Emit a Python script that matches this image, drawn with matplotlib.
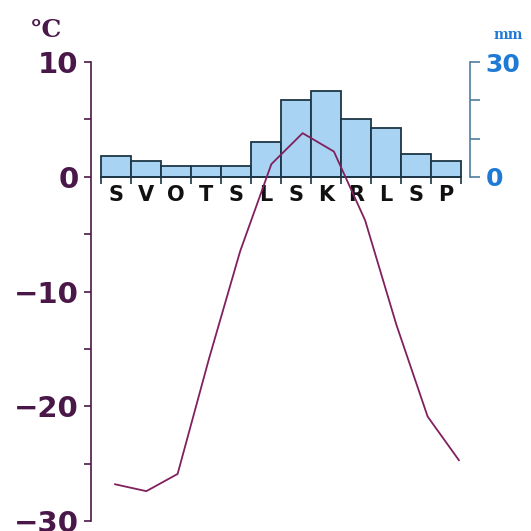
import numpy as np
import matplotlib
matplotlib.use("Agg")
import matplotlib.pyplot as plt

# monthly data (Sep .. Aug)
months = ['S', 'V', 'O', 'T', 'S', 'L', 'S', 'K', 'R', 'L', 'S', 'P']
precip = [5.3, 4.1, 2.8, 2.8, 2.8, 9.0, 20.0, 22.4, 15.1, 12.7, 6.0, 4.1]
temp = [-26.8, -27.4, -25.9, -15.9, -6.5, 1.1, 3.8, 2.2, -3.8, -12.9, -20.9, -24.7]

purple = '#4a1848'
line_purple = '#80205e'
blue = '#1f7ad6'
blue_axis = '#4f7d9c'
edge = '#1d3646'

fig = plt.figure(figsize=(5.31, 5.31), dpi=100)
ax = fig.add_axes([91 / 531, 10 / 531, 379 / 531, 459 / 531])
ax_t = ax.twinx()

# precipitation bars
x = np.arange(12)
ax.bar(x, precip, width=1.0, color='#a8d3f3', edgecolor=edge, linewidth=1.3, zorder=2)
ax.set_xlim(-0.833, 11.8)
ax.set_ylim(-90, 30)

ax.spines['top'].set_visible(False)
ax.spines['left'].set_visible(False)
ax.spines['bottom'].set_position(('data', 0))
ax.spines['bottom'].set_bounds(-0.5, 11.5)
ax.spines['bottom'].set_color(edge)
ax.spines['bottom'].set_linewidth(1.3)
ax.spines['bottom'].set_zorder(3)
ax.spines['right'].set_bounds(0, 30)
ax.spines['right'].set_color(blue_axis)
ax.spines['right'].set_linewidth(1.2)

ax.set_xticks(np.arange(-0.5, 12, 1))
ax.set_xticklabels([])
ax.set_xticks(x, minor=True)
ax.set_xticklabels(months, minor=True, fontsize=15, fontweight='bold', color='#111111')
ax.tick_params(axis='x', which='major', direction='out', length=5, width=1.2, color=edge)
ax.tick_params(axis='x', which='minor', length=0, pad=6)

ax.yaxis.tick_right()
ax.set_yticks([0, 10, 20, 30])
ax.set_yticklabels(['0', '', '', '30'], fontsize=18, fontweight='bold', color=blue)
ax.tick_params(axis='y', direction='out', length=7, width=1.2, color=blue_axis, pad=4)

# temperature line
ax_t.set_ylim(-30, 10)
tx = np.linspace(-0.03, 11.43, 12)
ax_t.plot(tx, temp, color=line_purple, linewidth=1.3, zorder=4)
ax_t.yaxis.tick_left()
for s in ['top', 'bottom', 'right']:
    ax_t.spines[s].set_visible(False)
ax_t.spines['left'].set_visible(True)
ax_t.spines['left'].set_color(purple)
ax_t.spines['left'].set_linewidth(1.2)
ax_t.set_yticks([-30, -20, -10, 0, 10])
ax_t.set_yticks([-25, -15, -5, 5], minor=True)
ax_t.set_yticklabels(['\u221230', '\u221220', '\u221210', '0', '10'],
                     fontsize=21, fontweight='bold', color=purple)
ax_t.tick_params(axis='y', which='both', direction='out', length=5, width=1.2,
                 color=purple, pad=4)

fig.text(30 / 531, 1 - 30 / 531, '\u00b0C', fontsize=18, fontweight='bold',
         family='DejaVu Serif', color=purple, va='center', ha='left')
fig.text(508 / 531, 1 - 35 / 531, 'mm', fontsize=10, fontweight='bold',
         family='DejaVu Serif', color=blue, va='center', ha='center')

fig.savefig('out.png', dpi=100)
